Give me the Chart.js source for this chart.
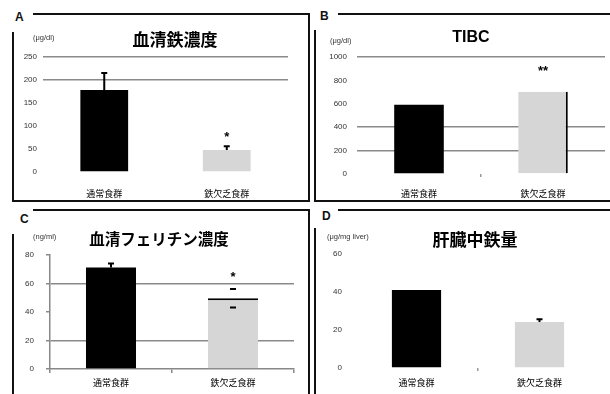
<!DOCTYPE html>
<html>
<head>
<meta charset="utf-8">
<script src="https://cdn.jsdelivr.net/npm/chart.js@4/dist/chart.umd.min.js"></script>
<style>
  body { margin: 0; background: #fff; }
  #wrap { position: relative; width: 610px; height: 394px; overflow: hidden; background: #fff; }
  canvas { position: absolute; }
  .ln { position: absolute; background: #111; }
  .tag { position: absolute; font: bold 12px "Liberation Sans", Arial, sans-serif; color: #111; }
</style>
</head>
<body>
<div id="wrap">
  <!-- panel frames -->
  <div class="ln" style="left:33px;top:13px;width:277px;height:2px"></div>
  <div class="ln" style="left:12px;top:32px;width:2px;height:170px"></div>
  <div class="ln" style="left:308px;top:13px;width:2px;height:189px"></div>
  <div class="ln" style="left:12px;top:200px;width:298px;height:2px"></div>

  <div class="ln" style="left:338px;top:13px;width:272px;height:2px"></div>
  <div class="ln" style="left:314px;top:30px;width:2px;height:172px"></div>
  <div class="ln" style="left:314px;top:200px;width:296px;height:2px"></div>

  <div class="ln" style="left:33px;top:209px;width:277px;height:2px"></div>
  <div class="ln" style="left:12px;top:234px;width:2px;height:160px"></div>
  <div class="ln" style="left:308px;top:209px;width:2px;height:185px"></div>

  <div class="ln" style="left:338px;top:209px;width:272px;height:2px"></div>
  <div class="ln" style="left:314px;top:228px;width:2px;height:166px"></div>

  <div class="tag" style="left:15px;top:10px">A</div>
  <div class="tag" style="left:320px;top:9px">B</div>
  <div class="tag" style="left:20px;top:212px">C</div>
  <div class="tag" style="left:322px;top:209px">D</div>

  <canvas id="chartA" width="294" height="184" style="left:14px;top:16px"></canvas>
  <canvas id="chartB" width="290" height="184" style="left:317px;top:16px"></canvas>
  <canvas id="chartC" width="294" height="182" style="left:14px;top:212px"></canvas>
  <canvas id="chartD" width="290" height="182" style="left:317px;top:212px"></canvas>
</div>
<script>
// === Data ===
const groups = ["通常食群", "鉄欠乏食群"];

const serumIron = [178, 48];          // μg/dl
const serumIronErr = [37, 8];
const serumIronMarks = ["", "*"];

const tibc = [592, 704];              // μg/dl
const tibcMarks = ["", "**"];

const ferritin = [71.3, 49.6];        // ng/ml
const ferritinErr = [2.7, 6.5];
const ferritinMarks = ["", "*"];

const liverIron = [41, 24.2];         // μg/mg liver
const liverIronErr = [0, 1.4];

const ironTicks = [0, 50, 100, 150, 200, 250];
const tibcTicks = [0, 200, 400, 600, 800, 1000];
const ferritinTicks = [0, 20, 40, 60, 80];
const liverTicks = [0, 20, 40, 60];

const BLACK = "#000000";
const GRAY = "#d6d6d6";
const JP = '"Noto Sans CJK JP", "Noto Sans", sans-serif';

// === Plugin: title + unit text, error bars and significance marks ===
const panelExtras = {
  id: "panelExtras",
  afterDatasetsDraw(chart, args, opts) {
    const { ctx } = chart;
    const y = chart.scales.y;
    const meta = chart.getDatasetMeta(0);
    const vals = chart.data.datasets[0].data;
    ctx.save();
    ctx.strokeStyle = "#000";
    ctx.lineWidth = 2;
    meta.data.forEach((bar, i) => {
      const e = opts.errors ? opts.errors[i] : 0;
      let topPx = bar.y;
      if (e) {
        const up = y.getPixelForValue(vals[i] + e);
        topPx = up;
        ctx.beginPath();
        if (!opts.capsOnly || !opts.capsOnly[i]) {
          ctx.moveTo(bar.x, bar.y);
          ctx.lineTo(bar.x, up);
        }
        ctx.moveTo(bar.x - 3, up);
        ctx.lineTo(bar.x + 3, up);
        if (opts.capsOnly && opts.capsOnly[i]) {
          const lo = y.getPixelForValue(vals[i] - e);
          ctx.moveTo(bar.x - 3, lo);
          ctx.lineTo(bar.x + 3, lo);
        }
        ctx.stroke();
      }
      if (opts.marks && opts.marks[i]) {
        ctx.fillStyle = "#000";
        ctx.font = "bold 13px 'Liberation Sans', Arial, sans-serif";
        ctx.textAlign = "center";
        ctx.textBaseline = "middle";
        ctx.fillText(opts.marks[i], bar.x, topPx - opts.markGap + 3);
      }
    });
    ctx.restore();
  },
  afterDraw(chart, args, opts) {
    if (!opts.title) return;
    const { ctx } = chart;
    ctx.save();
    ctx.fillStyle = "#000";
    ctx.textBaseline = "middle";
    ctx.textAlign = "center";
    ctx.font = opts.titleFont;
    ctx.fillText(opts.title, opts.titleX, opts.titleY);
    ctx.textAlign = "left";
    ctx.font = "7.5px 'Liberation Sans', Arial, sans-serif";
    ctx.fillStyle = "#333";
    ctx.fillText(opts.unit, opts.unitX, opts.unitY);
    ctx.restore();
  }
};
Chart.register(panelExtras);

// === Builds one panel's bar chart ===
function makePanel(id, values, ticks, cfg) {
  const maxV = ticks[ticks.length - 1];
  return new Chart(document.getElementById(id), {
    type: "bar",
    data: {
      labels: groups,
      datasets: [{
        data: values,
        backgroundColor: [BLACK, GRAY],
        borderColor: "#000",
        borderWidth: cfg.borderWidth || 0,
        borderSkipped: false,
        categoryPercentage: 1,
        barPercentage: cfg.barPct,
      }],
    },
    options: {
      responsive: false,
      animation: false,
      devicePixelRatio: 1,
      layout: { padding: cfg.padding },
      plugins: {
        legend: { display: false },
        tooltip: { enabled: false },
        panelExtras: cfg.extras,
      },
      scales: {
        x: {
          grid: {
            display: !!cfg.xTicks,
            drawOnChartArea: false,
            drawTicks: true,
            tickLength: cfg.xTickLen || 3,
            offset: true,
            color: cfg.xTicks || "transparent",
            lineWidth: 1.5,
          },
          border: { display: !!cfg.xAxisLine, color: "#888", width: 1.5 },
          ticks: {
            color: "#000",
            font: { size: 9, family: JP },
            padding: cfg.xPad,
            maxRotation: 0,
          },
          afterFit: (s) => { s.height = cfg.xHeight; },
        },
        y: {
          min: 0,
          max: maxV,
          afterBuildTicks: (s) => { s.ticks = ticks.map((v) => ({ value: v })); },
          grid: {
            color: (c) => (cfg.gridAt.includes(c.tick.value) ? "#8a8a8a" : "transparent"),
            tickColor: "#8a8a8a",
            lineWidth: 1.5,
            drawTicks: !!cfg.yAxisLine,
            tickLength: 4,
          },
          border: { display: !!cfg.yAxisLine, color: "#888", width: 1.5 },
          ticks: {
            color: "#333",
            font: { size: 8, family: "'Liberation Sans', Arial, sans-serif" },
            padding: cfg.yPad,
            callback: (v) => String(v),
          },
          afterFit: (s) => { s.width = cfg.yWidth; },
        },
      },
    },
  });
}

// === Panel A: 血清鉄濃度 ===
makePanel("chartA", serumIron, ironTicks, {
  padding: { left: 0, right: 20, top: 41, bottom: 0 },
  yWidth: 29, xHeight: 28, yPad: 6, xPad: 13,
  barPct: 0.39, gridAt: [200, 250],
  extras: {
    errors: serumIronErr, marks: serumIronMarks, markGap: 12,
    title: "血清鉄濃度", titleFont: "bold 17px " + JP, titleX: 161, titleY: 24,
    unit: "(μg/dl)", unitX: 19, unitY: 22,
  },
});

// === Panel B: TIBC ===
makePanel("chartB", tibc, tibcTicks, {
  padding: { left: 0, right: 2, top: 41, bottom: 0 },
  yWidth: 40, xHeight: 26, yPad: 10, xPad: 11,
  barPct: 0.40, gridAt: [200, 400, 1000],
  borderWidth: [0, { right: 2 }],
  xTicks: (c) => (c.index === 1 ? "#999" : "transparent"),
  extras: {
    marks: tibcMarks, markGap: 23,
    title: "TIBC", titleFont: "bold 16px 'Liberation Sans', Arial, sans-serif", titleX: 154, titleY: 22,
    unit: "(μg/dl)", unitX: 13, unitY: 25,
  },
});

// === Panel C: 血清フェリチン濃度 ===
makePanel("chartC", ferritin, ferritinTicks, {
  padding: { left: 0, right: 14, top: 43, bottom: 0 },
  yWidth: 36, xHeight: 25, yPad: 12, xPad: 4,
  barPct: 0.41, gridAt: [20, 60],
  borderWidth: [0, { top: 2 }],
  yAxisLine: true, xAxisLine: true, xTickLen: 4,
  xTicks: "#888",
  extras: {
    errors: ferritinErr, capsOnly: [false, true], marks: ferritinMarks, markGap: 15,
    title: "血清フェリチン濃度", titleFont: "bold 15.5px " + JP, titleX: 145, titleY: 27,
    unit: "(ng/ml)", unitX: 19, unitY: 25,
  },
});

// === Panel D: 肝臓中鉄量 ===
makePanel("chartD", liverIron, liverTicks, {
  padding: { left: 0, right: 6, top: 42, bottom: 0 },
  yWidth: 38, xHeight: 26, yPad: 13, xPad: 6,
  barPct: 0.40, gridAt: [],
  xTicks: (c) => (c.index === 1 ? "#999" : "transparent"),
  extras: {
    errors: liverIronErr,
    title: "肝臓中鉄量", titleFont: "bold 17px " + JP, titleX: 158, titleY: 28,
    unit: "(μg/mg liver)", unitX: 10, unitY: 25,
  },
});
</script>
</body>
</html>
